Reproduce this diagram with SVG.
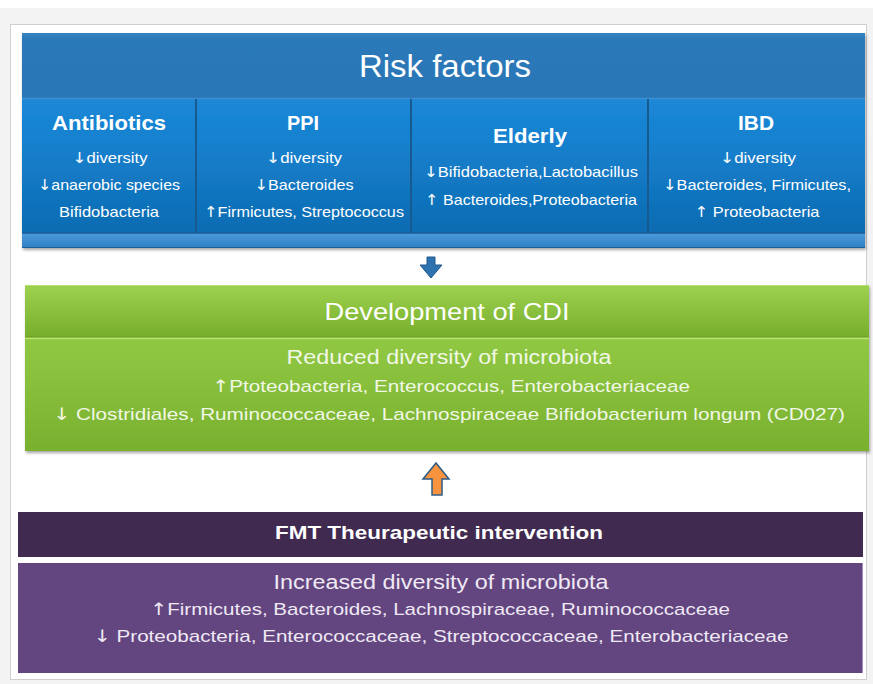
<svg xmlns="http://www.w3.org/2000/svg" width="873" height="684" viewBox="0 0 873 684">
<defs>
<linearGradient id="gHead" x1="0" y1="0" x2="0" y2="1"><stop offset="0" stop-color="#3483c2"/><stop offset="0.1" stop-color="#2b79b9"/><stop offset="1" stop-color="#2a76b6"/></linearGradient>
<linearGradient id="gCell" x1="0" y1="0" x2="0" y2="1"><stop offset="0" stop-color="#2593e2"/><stop offset="0.5" stop-color="#1681cf"/><stop offset="1" stop-color="#0b68ad"/></linearGradient>
<linearGradient id="gStrip" x1="0" y1="0" x2="0" y2="1"><stop offset="0" stop-color="#4b9cdc"/><stop offset="1" stop-color="#2f7fc4"/></linearGradient>
<linearGradient id="gGreenH" x1="0" y1="0" x2="0" y2="1"><stop offset="0" stop-color="#9dd24f"/><stop offset="1" stop-color="#77ae2c"/></linearGradient>
<linearGradient id="gGreenB" x1="0" y1="0" x2="0" y2="1"><stop offset="0" stop-color="#98d04a"/><stop offset="0.5" stop-color="#8bc33f"/><stop offset="1" stop-color="#79b02e"/></linearGradient>
<filter id="sh" x="-5%" y="-5%" width="110%" height="120%"><feDropShadow dx="1" dy="2" stdDeviation="1.5" flood-color="#000" flood-opacity="0.35"/></filter>
</defs>
<style>
text{font-family:"Liberation Sans",Arial,sans-serif;text-anchor:middle;fill:#ffffff}
.a{font-family:"DejaVu Sans",sans-serif}
.h{font-weight:bold;font-size:21px}
.s{font-size:15px}
.g{fill:#f1f7e6}
.p{fill:#efe9f4}
</style>
<rect x="0" y="0" width="873" height="684" fill="#ffffff"/>
<rect x="0" y="8" width="873" height="676" fill="#f3f3f3"/>
<rect x="10.5" y="24.5" width="856" height="655" fill="#ffffff" stroke="#cfcfcf"/>

<g id="risk-factors">
<g filter="url(#sh)">
<rect x="22" y="33" width="843" height="215" fill="url(#gCell)"/>
<rect x="22" y="33" width="843" height="65" fill="url(#gHead)"/>
<rect x="22" y="233" width="843" height="15" fill="url(#gStrip)"/>
</g>
<line x1="22" y1="98.5" x2="865" y2="98.5" stroke="#3d8fd0" stroke-width="1.5"/>
<line x1="22" y1="233" x2="865" y2="233" stroke="#1b5e96" stroke-width="1.5"/>
<line x1="22" y1="247.5" x2="865" y2="247.5" stroke="#1f5f94" stroke-width="1"/>
<g stroke="#165a8f" stroke-width="2">
<line x1="196" y1="99" x2="196" y2="233"/>
<line x1="411" y1="99" x2="411" y2="233"/>
<line x1="648" y1="99" x2="648" y2="233"/>
</g>
<text x="445" y="77" font-size="32" textLength="172" lengthAdjust="spacingAndGlyphs">Risk factors</text>
<g id="antibiotics">
<text class="h" x="109" y="130" textLength="114" lengthAdjust="spacingAndGlyphs">Antibiotics</text>
<text class="s" x="110" y="163" textLength="75" lengthAdjust="spacingAndGlyphs"><tspan class="a">↓</tspan>diversity</text>
<text class="s" x="109" y="190" textLength="142" lengthAdjust="spacingAndGlyphs"><tspan class="a">↓</tspan>anaerobic species</text>
<text class="s" x="109" y="217" textLength="100" lengthAdjust="spacingAndGlyphs">Bifidobacteria</text>
</g>
<g id="ppi">
<text class="h" x="303" y="130" textLength="32" lengthAdjust="spacingAndGlyphs">PPI</text>
<text class="s" x="304" y="163" textLength="76" lengthAdjust="spacingAndGlyphs"><tspan class="a">↓</tspan>diversity</text>
<text class="s" x="304" y="190" textLength="99" lengthAdjust="spacingAndGlyphs"><tspan class="a">↓</tspan>Bacteroides</text>
<text class="s" x="304" y="217" textLength="200" lengthAdjust="spacingAndGlyphs"><tspan class="a">↑</tspan>Firmicutes, Streptococcus</text>
</g>
<g id="elderly">
<text class="h" x="530" y="143" textLength="74" lengthAdjust="spacingAndGlyphs">Elderly</text>
<text class="s" x="531" y="177" textLength="214" lengthAdjust="spacingAndGlyphs"><tspan class="a">↓</tspan>Bifidobacteria,Lactobacillus</text>
<text class="s" x="531" y="205" textLength="212" lengthAdjust="spacingAndGlyphs"><tspan class="a">↑</tspan> Bacteroides,Proteobacteria</text>
</g>
<g id="ibd">
<text class="h" x="756" y="130" textLength="36" lengthAdjust="spacingAndGlyphs">IBD</text>
<text class="s" x="758" y="163" textLength="76" lengthAdjust="spacingAndGlyphs"><tspan class="a">↓</tspan>diversity</text>
<text class="s" x="757" y="190" textLength="188" lengthAdjust="spacingAndGlyphs"><tspan class="a">↓</tspan>Bacteroides, Firmicutes,</text>
<text class="s" x="757" y="217" textLength="125" lengthAdjust="spacingAndGlyphs"><tspan class="a">↑</tspan> Proteobacteria</text>
</g>
</g>

<g id="development-of-cdi">
<g filter="url(#sh)">
<rect x="25" y="285" width="844" height="166" fill="url(#gGreenB)"/>
<rect x="25" y="285" width="844" height="52" fill="url(#gGreenH)"/>
</g>
<line x1="25" y1="285.5" x2="869" y2="285.5" stroke="#b6e070" stroke-width="1"/>
<line x1="25" y1="337" x2="869" y2="337" stroke="#6a9e26" stroke-width="1"/>
<line x1="25" y1="338.5" x2="869" y2="338.5" stroke="#b9e272" stroke-width="1.5"/>
<text x="447" y="320" font-size="24" textLength="245" lengthAdjust="spacingAndGlyphs">Development of CDI</text>
<text class="g" x="449" y="364" font-size="20" textLength="325" lengthAdjust="spacingAndGlyphs">Reduced diversity of microbiota</text>
<text class="g" x="451" y="392" font-size="17" textLength="478" lengthAdjust="spacingAndGlyphs"><tspan class="a">↑</tspan>Ptoteobacteria, Enterococcus, Enterobacteriaceae</text>
<text class="g" x="449" y="420" font-size="17" textLength="792" lengthAdjust="spacingAndGlyphs"><tspan class="a">↓</tspan> Clostridiales, Ruminococcaceae, Lachnospiraceae Bifidobacterium longum (CD027)</text>
</g>

<g id="fmt-intervention">
<rect x="18" y="512" width="845" height="45" fill="#402a4f"/>
<text x="439" y="539" font-size="19" font-weight="bold" textLength="328" lengthAdjust="spacingAndGlyphs">FMT Theurapeutic intervention</text>
</g>

<g id="increased-diversity">
<rect x="18" y="563" width="845" height="110" fill="#634580"/>
<line x1="862.5" y1="563" x2="862.5" y2="673" stroke="#a88bc2" stroke-width="1"/>
<text class="p" x="441" y="589" font-size="20" textLength="335" lengthAdjust="spacingAndGlyphs">Increased diversity of microbiota</text>
<text class="p" x="440" y="615" font-size="17" textLength="580" lengthAdjust="spacingAndGlyphs"><tspan class="a">↑</tspan>Firmicutes, Bacteroides, Lachnospiraceae, Ruminococcaceae</text>
<text class="p" x="441" y="642" font-size="17" textLength="695" lengthAdjust="spacingAndGlyphs"><tspan class="a">↓</tspan> Proteobacteria, Enterococcaceae, Streptococcaceae, Enterobacteriaceae</text>
</g>

<g id="connectors">
<polygon points="427,257 435,257 435,265 442,265 431,278 420,265 427,265" fill="#2e72b0" stroke="#22598c" stroke-width="1"/>
<polygon points="436,463 449,479 442,479 442,495 432,495 432,479 423,479" fill="#f7923e" stroke="#2f5c86" stroke-width="1.5" stroke-linejoin="miter"/>
</g>
</svg>
